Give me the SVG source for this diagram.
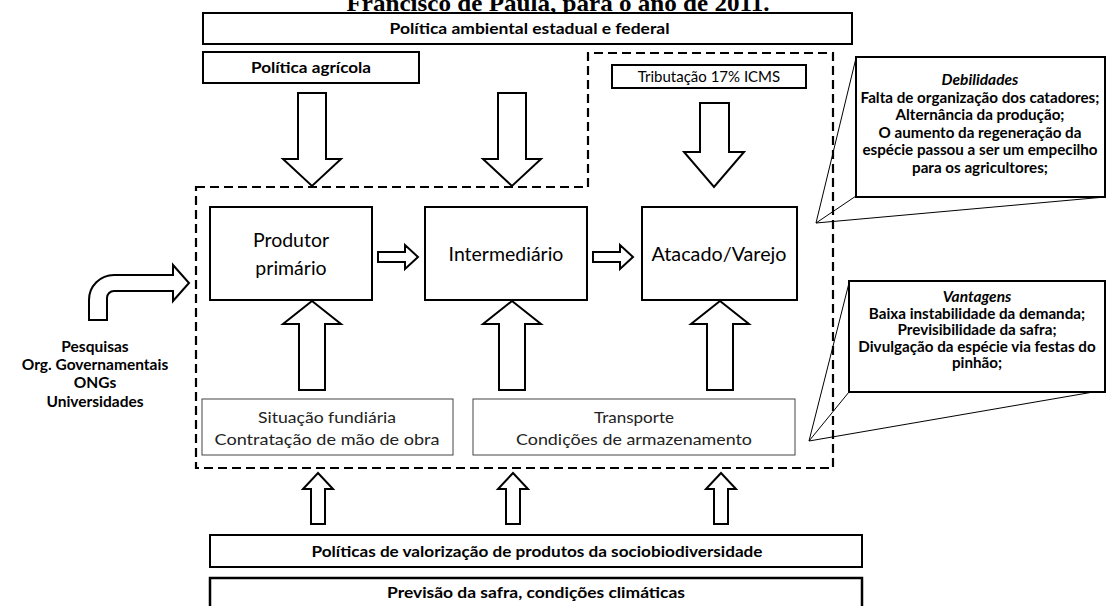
<svg xmlns="http://www.w3.org/2000/svg" width="1107" height="606" viewBox="0 0 1107 606">
  <style>
    .box { fill: #fff; stroke: #000; stroke-width: 2; }
    .thin { fill: #fff; stroke: #444; stroke-width: 1; }
    .arrow { fill: #fff; stroke: #000; stroke-width: 2; stroke-linejoin: miter; }
    .dash { fill: none; stroke: #000; stroke-width: 2.2; stroke-dasharray: 9 5; }
    .lead { fill: none; stroke: #000; stroke-width: 1; }
    text { font-family: Lato, "Liberation Sans", sans-serif; fill: #000; text-anchor: middle; }
    .b { font-weight: bold; font-size: 14.5px; }
    .lbl { font-weight: bold; font-size: 15.5px; }
    .node { font-size: 19.5px; }
    .sub { font-size: 16px; fill: #222; }
    .co { font-weight: bold; font-size: 15.2px; }
    .coh { font-weight: bold; font-style: italic; font-size: 15.5px; }
    .title { font-family: "Liberation Serif", serif; font-weight: bold; font-size: 23px; }
  </style>

  <!-- caption, clipped at the top edge -->
  <text class="title" x="558" y="10.5" textLength="423" lengthAdjust="spacingAndGlyphs">Francisco de Paula, para o ano de 2011.</text>

  <!-- dashed boundary of the production chain -->
  <path class="dash" d="M196,187 H588 V53 H833 V468 H196 Z"/>

  <g id="connectors">
    <!-- downward policy arrows -->
    <polygon class="arrow" points="298,93 326,93 326,159 341,159 312,186 283,159 298,159"/>
    <polygon class="arrow" points="498,93 526,93 526,159 541,159 512,186 483,159 498,159"/>
    <polygon class="arrow" points="700,103 729,103 729,152 744,152 714,187 684,152 700,152"/>
    <!-- chain flow arrows -->
    <polygon class="arrow" points="378,252 405,252 405,245 418,257 405,269 405,262 378,262"/>
    <polygon class="arrow" points="593,252 620,252 620,245 633,257 620,269 620,262 593,262"/>
    <!-- upward arrows from the lower boxes -->
    <polygon class="arrow" points="312,301 341,324 325,324 325,390 299,390 299,324 283,324"/>
    <polygon class="arrow" points="512,301 541,324 525,324 525,390 499,390 499,324 483,324"/>
    <polygon class="arrow" points="720,301 749,324 733,324 733,390 707,390 707,324 691,324"/>
    <!-- small upward arrows from the bottom policies -->
    <polygon class="arrow" points="318,473 333,489 325,489 325,524 311,524 311,489 303,489"/>
    <polygon class="arrow" points="513,473 528,489 520,489 520,524 506,524 506,489 498,489"/>
    <polygon class="arrow" points="721,473 736,489 728,489 728,524 714,524 714,489 706,489"/>
    <!-- bent arrow from research institutions -->
    <path class="arrow" d="M89,320 V300 A25,25 0 0 1 114,275 H173 V265 L189,283 L173,301 V291 H114 A7,7 0 0 0 107,298 V320 Z"/>
    <!-- callout leaders -->
    <polyline class="lead" points="856,58 816,223 856,196"/>
    <line class="lead" x1="816" y1="223" x2="1105" y2="197"/>
    <polyline class="lead" points="849,283 809,441 849,392"/>
    <line class="lead" x1="809" y1="441" x2="1105" y2="390"/>
  </g>

  <g id="politica-ambiental">
    <rect class="box" x="203" y="13" width="649" height="31"/>
    <text class="b" x="529.5" y="34" textLength="280" lengthAdjust="spacingAndGlyphs">Política ambiental estadual e federal</text>
  </g>

  <g id="politica-agricola">
    <rect class="box" x="203" y="52" width="216" height="31"/>
    <text class="b" x="311" y="73" textLength="120" lengthAdjust="spacingAndGlyphs">Política agrícola</text>
  </g>

  <g id="tributacao">
    <rect class="box" x="612" y="65" width="194" height="23"/>
    <text style="font-size:15px" x="709" y="81.5">Tributação 17% ICMS</text>
  </g>

  <g id="produtor">
    <rect class="box" x="210" y="207" width="162" height="93"/>
    <text class="node" x="291" y="247">Produtor</text>
    <text class="node" x="291" y="275">primário</text>
  </g>

  <g id="intermediario">
    <rect class="box" x="425" y="207" width="162" height="93"/>
    <text class="node" x="506" y="261">Intermediário</text>
  </g>

  <g id="atacado">
    <rect class="box" x="642" y="207" width="155" height="93"/>
    <text class="node" x="719" y="261" textLength="135" lengthAdjust="spacingAndGlyphs">Atacado/Varejo</text>
  </g>

  <g id="situacao">
    <rect class="thin" x="202" y="399" width="251" height="56"/>
    <text class="sub" x="327" y="423" textLength="138" lengthAdjust="spacingAndGlyphs">Situação fundiária</text>
    <text class="sub" x="327" y="445" textLength="225" lengthAdjust="spacingAndGlyphs">Contratação de mão de obra</text>
  </g>

  <g id="transporte">
    <rect class="thin" x="473" y="399" width="322" height="56"/>
    <text class="sub" x="634" y="423" textLength="80" lengthAdjust="spacingAndGlyphs">Transporte</text>
    <text class="sub" x="634" y="445" textLength="236" lengthAdjust="spacingAndGlyphs">Condições de armazenamento</text>
  </g>

  <g id="instituicoes">
    <text class="lbl" x="95" y="352">Pesquisas</text>
    <text class="lbl" x="95" y="370">Org. Governamentais</text>
    <text class="lbl" x="95" y="388">ONGs</text>
    <text class="lbl" x="95" y="407">Universidades</text>
  </g>

  <g id="debilidades">
    <rect class="box" x="856" y="57" width="249" height="140"/>
    <text class="coh" x="980" y="85">Debilidades</text>
    <text class="co" x="980" y="102.5">Falta de organização dos catadores;</text>
    <text class="co" x="980" y="120">Alternância da produção;</text>
    <text class="co" x="980" y="137.5">O aumento da regeneração da</text>
    <text class="co" x="980" y="155">espécie passou a ser um empecilho</text>
    <text class="co" x="980" y="172.5">para os agricultores;</text>
  </g>

  <g id="vantagens">
    <rect class="box" x="849" y="281" width="256" height="111"/>
    <text class="coh" x="977" y="302">Vantagens</text>
    <text class="co" x="977" y="318.5">Baixa instabilidade da demanda;</text>
    <text class="co" x="977" y="335">Previsibilidade da safra;</text>
    <text class="co" x="977" y="351.5">Divulgação da espécie via festas do</text>
    <text class="co" x="977" y="368">pinhão;</text>
  </g>

  <g id="valorizacao">
    <rect class="box" x="210" y="535" width="652" height="32"/>
    <text class="b" x="537" y="557" textLength="451" lengthAdjust="spacingAndGlyphs">Políticas de valorização de produtos da sociobiodiversidade</text>
  </g>

  <g id="previsao">
    <rect class="box" x="210" y="578" width="652" height="40" style="stroke-width:2.5"/>
    <text class="lbl" x="536" y="598" textLength="298" lengthAdjust="spacingAndGlyphs">Previsão da safra, condições climáticas</text>
  </g>
</svg>
